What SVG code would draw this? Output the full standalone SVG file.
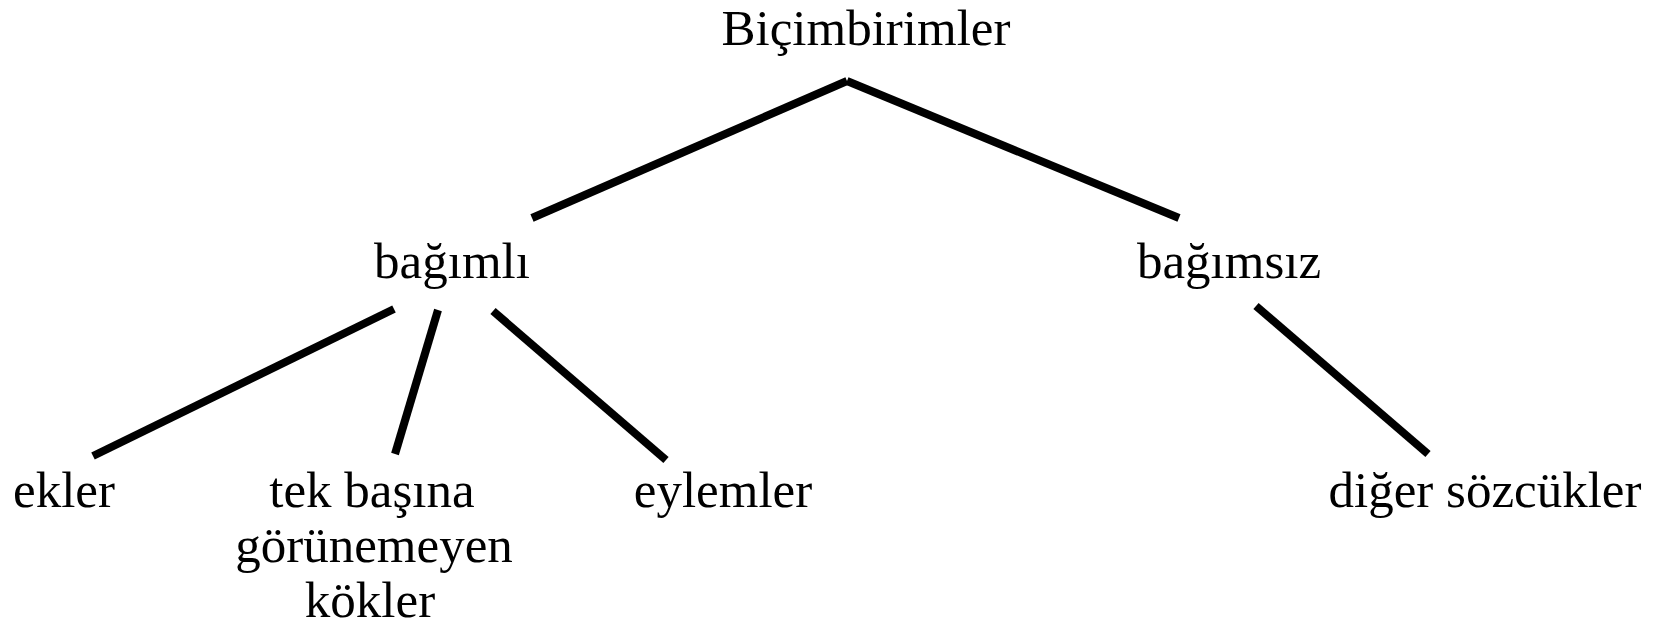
<svg xmlns="http://www.w3.org/2000/svg" width="1664" height="628" viewBox="0 0 1664 628">
<style>
text{font-family:"Liberation Serif","Times New Roman",serif;font-size:51px;fill:#000;text-anchor:middle}
.c line{stroke:#000;stroke-width:8;stroke-linecap:butt}
</style>
<rect width="1664" height="628" fill="#fff"/>
<g class="c" id="connectors">
<line x1="847" y1="81" x2="532" y2="218"/>
<line x1="847" y1="81" x2="1179" y2="218"/>
<line x1="394" y1="309" x2="93" y2="456"/>
<line x1="438" y1="310" x2="395" y2="454"/>
<line x1="493" y1="311" x2="666" y2="460"/>
<line x1="1256" y1="306" x2="1428" y2="454"/>
</g>
<g id="root"><text x="866" y="45">Biçimbirimler</text></g>
<g id="bagimli"><text x="452" y="278">bağımlı</text></g>
<g id="bagimsiz"><text x="1229" y="278">bağımsız</text></g>
<g id="ekler"><text x="64" y="507">ekler</text></g>
<g id="kokler"><text x="372" y="507">tek başına</text><text x="374" y="562">görünemeyen</text><text x="370" y="617">kökler</text></g>
<g id="eylemler"><text x="723" y="507">eylemler</text></g>
<g id="diger"><text x="1485" y="507">diğer sözcükler</text></g>
</svg>
